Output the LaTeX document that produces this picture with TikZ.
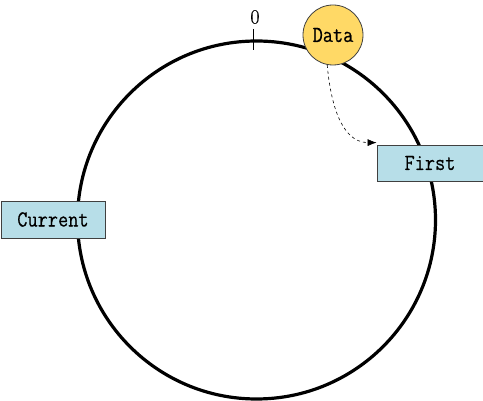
\documentclass[tikz,border=0pt]{standalone}
\usepackage{fontspec}
\newfontfamily\labelfont[FakeStretch=0.86, FakeBold=0.4]{Latin Modern Mono}
\newfontfamily\markfont[FakeBold=0.5]{Latin Modern Roman}
\usetikzlibrary{arrows.meta}
\definecolor{datafill}{HTML}{FFD966}
\definecolor{boxfill}{HTML}{B7DEE8}
\begin{document}
\begin{tikzpicture}
      [x=1pt, y=-1pt,
      ring/.style={line width=3.2pt},
      label/.style={font=\labelfont\fontsize{23}{25}\selectfont},
      box/.style={label, draw=black!75, thick, fill=boxfill, minimum width=105pt, minimum height=36pt, inner sep=0pt},
      key/.style={label, circle, draw=black!75, thick, fill=datafill, minimum size=60pt, inner sep=0pt},
      ]
      \useasboundingbox (0,0) rectangle (483,401);
      \draw[ring] (256.5,220) circle (179pt);
      \draw (253.5,29) -- (253.5,50);
      \node[font=\markfont\fontsize{20}{22}\selectfont] (zero) at (255,17) {0};

      \node[key] (data) at (333,35) {Data};
      \node[box, minimum width=106pt] (first) at (430,163) {First};
      \node[box, minimum width=104pt, minimum height=37pt] (current) at (53,219.5) {Current};

      \draw[dashed, semithick, -{Latex[length=9pt, width=7pt]}] (data.-101) to[out=-85, in=180] ([yshift=2pt]first.north west);
    \end{tikzpicture}
\end{document}
